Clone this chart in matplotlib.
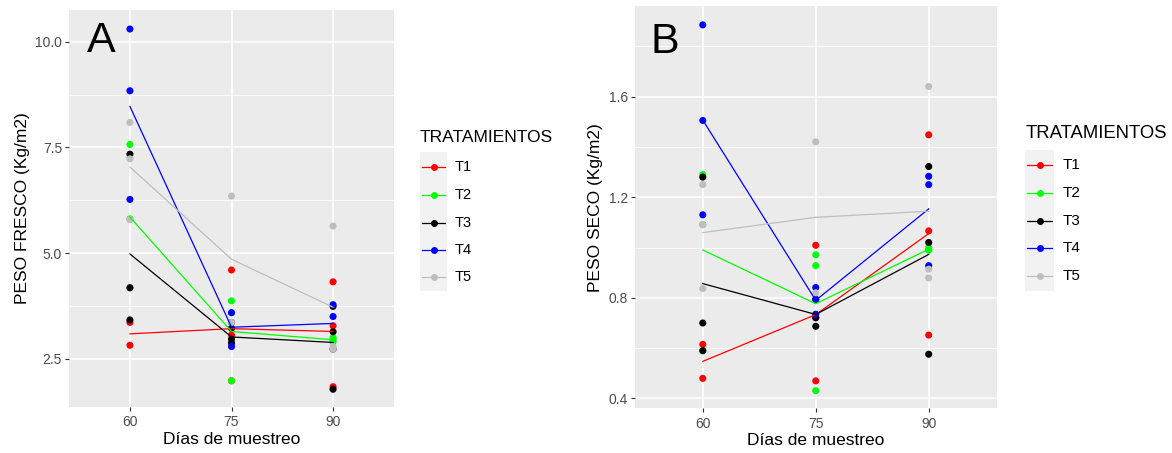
import numpy as np
import matplotlib
matplotlib.use('Agg')
import matplotlib.pyplot as plt
from matplotlib.lines import Line2D
from matplotlib.patches import Rectangle

plt.rcParams['font.family'] = ['Liberation Sans', 'DejaVu Sans']

nan = np.nan
days = ['60', '75', '90']
treatments = ['T1', 'T2', 'T3', 'T4', 'T5']
colors = ['#FF0000', '#00FF00', '#000000', '#0000FF', '#BEBEBE']

# PESO FRESCO (Kg/m2): per treatment, per day, replicates
fresh_T1 = [[3.36, 2.82, nan], [4.60, 3.06, 1.98], [4.32, 3.28, 1.84]]
fresh_T2 = [[7.57, 5.81, 4.18], [3.87, 3.59, 1.98], [3.00, 2.95, 2.90]]
fresh_T3 = [[7.34, 4.18, 3.42], [3.22, 2.96, 2.87], [3.74, 3.14, 1.78]]
fresh_T4 = [[10.30, 8.84, 6.27], [3.59, 3.36, 2.79], [3.78, 3.50, 2.73]]
fresh_T5 = [[8.09, 7.23, 5.79], [6.35, 3.36, nan], [5.64, 2.79, 2.73]]

# PESO SECO (Kg/m2)
dry_T1 = [[0.615, 0.48, nan], [1.009, 0.721, 0.47], [1.448, 1.066, 0.652]]
dry_T2 = [[1.29, 1.091, 0.59], [0.971, 0.928, 0.431], [0.99, 0.99, 1.00]]
dry_T3 = [[1.28, 0.70, 0.59], [0.794, 0.721, 0.687], [1.322, 1.02, 0.576]]
dry_T4 = [[1.885, 1.505, 1.13], [0.841, 0.794, 0.735], [1.283, 1.25, 0.928]]
dry_T5 = [[1.25, 1.091, 0.837], [1.42, 0.82, nan], [1.64, 0.914, 0.879]]

fresh_yticks = [2.5, 5.0, 7.5, 10.0]
fresh_yminor = [3.75, 6.25, 8.75]
dry_yticks = [0.4, 0.8, 1.2, 1.6]
dry_yminor = [0.6, 1.0, 1.4, 1.8]

W, H = 1172, 453
fig = plt.figure(figsize=(W / 100, H / 100), dpi=100)


def fx(px):
    return px / W


def fy(py):
    return 1 - py / H


def panel(rect, data, ylim, yticks, yminor, ylabel, letter, letter_xy):
    ax = fig.add_axes(rect)
    ax.set_facecolor('#EBEBEB')
    xpos = np.arange(len(days))
    for vals, c in zip(data, colors):
        arr = np.array(vals, dtype=float)
        for i in range(len(days)):
            ax.scatter(np.full(arr.shape[1], xpos[i]), arr[i], s=26, color=c,
                       edgecolors='none', zorder=3)
    for vals, c in zip(data, colors):
        arr = np.array(vals, dtype=float)
        means = np.nanmean(arr, axis=1)
        ax.plot(xpos, means, color=c, lw=0.9, zorder=4)
    ax.set_xlim(-0.6, len(days) - 0.4)
    ax.set_ylim(*ylim)
    ax.set_xticks(xpos)
    ax.set_xticklabels(days)
    ax.set_yticks(yticks)
    ax.set_yticklabels([f'{t:.1f}' for t in yticks])
    ax.set_yticks(yminor, minor=True)
    ax.tick_params(axis='both', which='major', length=3, width=0.8,
                   color='#333333', labelcolor='#4D4D4D', labelsize=10, pad=2)
    ax.tick_params(axis='x', which='major', pad=3)
    ax.tick_params(axis='y', which='minor', length=0)
    ax.grid(which='major', color='white', lw=1.1)
    ax.grid(which='minor', axis='y', color='white', lw=0.55)
    ax.set_axisbelow(True)
    for s in ax.spines.values():
        s.set_visible(False)
    ax.set_xlabel('Días de muestreo', fontsize=12.5, labelpad=2)
    ax.set_ylabel(ylabel, fontsize=12.5, labelpad=4)
    fig.text(fx(letter_xy[0]), fy(letter_xy[1]), letter, fontsize=31,
             ha='left', va='baseline')
    return ax


axA = panel([fx(69), fy(407), fx(394) - fx(69), fy(10) - fy(407)],
            [fresh_T1, fresh_T2, fresh_T3, fresh_T4, fresh_T5],
            (1.36, 10.75), fresh_yticks, fresh_yminor,
            'PESO FRESCO (Kg/m2)', 'A', (87, 52))
axB = panel([fx(635), fy(408.3), fx(996.5) - fx(635), fy(6) - fy(408.3)],
            [dry_T1, dry_T2, dry_T3, dry_T4, dry_T5],
            (0.361, 1.96), dry_yticks, dry_yminor,
            'PESO SECO (Kg/m2)', 'B', (651, 53))


def legend(title_xy, title_size, label_size, box, key_x, key_ys, label_x):
    fig.text(fx(title_xy[0]), fy(title_xy[1]), 'TRATAMIENTOS', fontsize=title_size,
             ha='left', va='center')
    x0, y0, x1, y1 = box
    fig.patches.append(Rectangle((fx(x0), fy(y1)), fx(x1) - fx(x0), fy(y0) - fy(y1),
                                 transform=fig.transFigure, facecolor='#F2F2F2',
                                 edgecolor='none'))
    for t, c, ky in zip(treatments, colors, key_ys):
        fig.lines.append(Line2D([fx(key_x[0]), fx(key_x[1])], [fy(ky), fy(ky)],
                                transform=fig.transFigure, color=c, lw=0.9))
        fig.lines.append(Line2D([fx((key_x[0] + key_x[1]) / 2)], [fy(ky)],
                                transform=fig.transFigure, color=c, marker='o',
                                markersize=5, markeredgewidth=0))
        fig.text(fx(label_x), fy(ky), t, fontsize=label_size, ha='left', va='center')


legend((420, 138), 12.5, 10.5, (420, 151.7, 447, 290.7), (422, 445),
       [167.3, 195, 223.3, 250, 276.7], 455)
legend((1026, 134), 13.3, 11, (1025, 150, 1054, 290.7), (1027, 1052),
       [165, 192.7, 220.7, 248.3, 276], 1063)

fig.savefig('out.png', dpi=100)
